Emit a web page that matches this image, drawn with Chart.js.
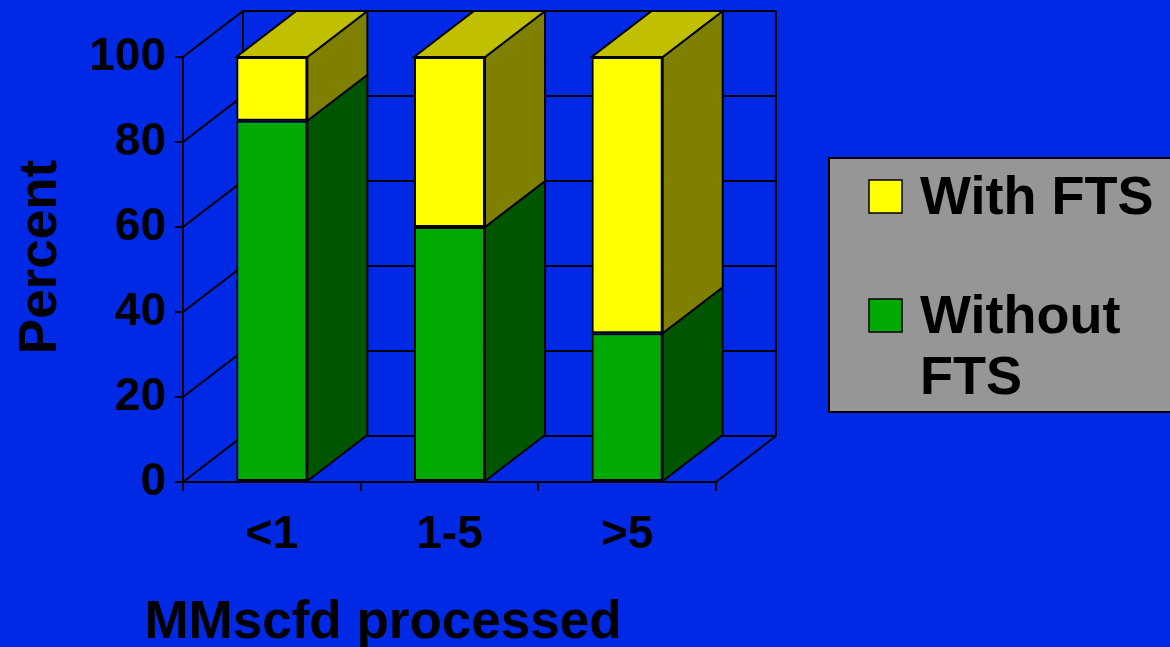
<!DOCTYPE html>
<html>
<head>
<meta charset="utf-8">
<title>FTS use by plant size</title>
<style>
  html, body { margin: 0; padding: 0; background: #0029E5; overflow: hidden; }
  #wrap { width: 1170px; height: 647px; }
</style>
<script src="https://cdn.jsdelivr.net/npm/chart.js@4.4.1/dist/chart.umd.min.js"></script>
</head>
<body>
<div id="wrap"><canvas id="chart" width="1170" height="647"></canvas></div>
<script>
// Share of plants with / without FTS by gas throughput (MMscfd)
const categories = ['<1', '1-5', '>5'];
const withoutFTS = [85, 60, 35];
const withFTS = [15, 40, 65];
const yTickValues = [0, 20, 40, 60, 80, 100];
const seriesLabels = ['Without FTS', 'With FTS'];
const xAxisTitle = 'MMscfd processed';
const yAxisTitle = 'Percent';

const FONT = '"Liberation Sans", Arial, Helvetica, sans-serif';
const BG = '#0029E5';
const DX = 60, DY = -46;   // depth offset of the 3-D box

// front / side / top shades for each series
const shades = [
  { front: '#00AA00', side: '#005500', top: '#008000' },
  { front: '#FFFF00', side: '#808000', top: '#C0C000' }
];

const depthPlugin = {
  id: 'depth3d',
  beforeDraw(chart) {
    const ctx = chart.ctx;
    ctx.save();
    ctx.fillStyle = BG;
    ctx.fillRect(0, 0, chart.width, chart.height);
    ctx.restore();
  },
  beforeDatasetsDraw(chart) {
    // side wall, back wall and floor
    const { ctx, chartArea: { left, right, top, bottom }, scales: { y } } = chart;
    ctx.save();
    ctx.strokeStyle = '#000';
    ctx.lineWidth = 2;
    ctx.beginPath();
    yTickValues.forEach(v => {
      const py = y.getPixelForValue(v);
      ctx.moveTo(left, py);
      ctx.lineTo(left + DX, py + DY);
      ctx.lineTo(right + DX, py + DY);
    });
    ctx.moveTo(left + DX, top + DY);
    ctx.lineTo(left + DX, bottom + DY);
    ctx.moveTo(right + DX, top + DY);
    ctx.lineTo(right + DX, bottom + DY);
    ctx.moveTo(right, bottom);
    ctx.lineTo(right + DX, bottom + DY);
    ctx.stroke();
    ctx.restore();
  },
  afterDatasetsDraw(chart) {
    const ctx = chart.ctx;
    const n = chart.data.datasets.length;
    ctx.save();
    ctx.strokeStyle = '#000';
    ctx.lineWidth = 2;
    ctx.lineJoin = 'miter';
    for (let d = 0; d < n; d++) {
      const meta = chart.getDatasetMeta(d);
      meta.data.forEach(bar => {
        const p = bar.getProps(['x', 'y', 'base', 'width'], true);
        const l = p.x - p.width / 2, r = p.x + p.width / 2;
        const t = Math.min(p.y, p.base), b = Math.max(p.y, p.base);
        // right side face
        ctx.beginPath();
        ctx.moveTo(r, t);
        ctx.lineTo(r + DX, t + DY);
        ctx.lineTo(r + DX, b + DY);
        ctx.lineTo(r, b);
        ctx.closePath();
        ctx.fillStyle = shades[d].side;
        ctx.fill();
        ctx.stroke();
        // top face on the uppermost segment
        if (d === n - 1) {
          ctx.beginPath();
          ctx.moveTo(l, t);
          ctx.lineTo(l + DX, t + DY);
          ctx.lineTo(r + DX, t + DY);
          ctx.lineTo(r, t);
          ctx.closePath();
          ctx.fillStyle = shades[d].top;
          ctx.fill();
          ctx.stroke();
        }
      });
    }
    ctx.restore();
  },
  afterDraw(chart) {
    const ctx = chart.ctx;
    ctx.save();
    // axis titles
    ctx.fillStyle = '#000';
    ctx.font = 'bold 53px ' + FONT;
    ctx.textAlign = 'center';
    ctx.textBaseline = 'alphabetic';
    ctx.fillText(xAxisTitle, 383, 638);
    ctx.save();
    ctx.translate(56, 257);
    ctx.rotate(-Math.PI / 2);
    ctx.fillText(yAxisTitle, 0, 0);
    ctx.restore();

    // legend box
    const bx = 829, by = 158, bw = 360, bh = 254;
    ctx.fillStyle = '#969696';
    ctx.fillRect(bx, by, bw, bh);
    ctx.strokeStyle = '#000';
    ctx.lineWidth = 2;
    ctx.strokeRect(bx, by, bw, bh);

    ctx.font = 'bold 54px ' + FONT;
    ctx.textAlign = 'left';
    const tx = 920, maxW = 245, lineH = 61;
    const order = [1, 0];
    const rowBase = [214, 333];
    order.forEach((d, i) => {
      const ds = chart.data.datasets[d];
      // swatch
      ctx.fillStyle = shades[d].front;
      ctx.fillRect(869, rowBase[i] - 34, 33, 33);
      ctx.lineWidth = 1.5;
      ctx.strokeStyle = '#000';
      ctx.strokeRect(869, rowBase[i] - 34, 33, 33);
      // wrapped label
      const words = ds.label.split(' ');
      const lines = [];
      let cur = '';
      words.forEach(w => {
        const test = cur ? cur + ' ' + w : w;
        if (cur && ctx.measureText(test).width > maxW) { lines.push(cur); cur = w; }
        else cur = test;
      });
      if (cur) lines.push(cur);
      ctx.fillStyle = '#000';
      lines.forEach((ln, k) => ctx.fillText(ln, tx, rowBase[i] + k * lineH));
    });
    ctx.restore();
  }
};

const tickFont = { family: FONT, size: 46, weight: 'bold' };

new Chart(document.getElementById('chart'), {
  type: 'bar',
  data: {
    labels: categories,
    datasets: [
      {
        label: seriesLabels[0],
        data: withoutFTS,
        backgroundColor: shades[0].front,
        borderColor: '#000',
        borderWidth: 2,
        borderSkipped: false
      },
      {
        label: seriesLabels[1],
        data: withFTS,
        backgroundColor: shades[1].front,
        borderColor: '#000',
        borderWidth: 2,
        borderSkipped: false
      }
    ]
  },
  options: {
    responsive: false,
    animation: false,
    devicePixelRatio: 1,
    layout: { padding: { left: 0, top: 57, right: 454, bottom: 0 } },
    datasets: { bar: { categoryPercentage: 1.0, barPercentage: 0.4 } },
    plugins: {
      legend: { display: false },
      tooltip: { enabled: false }
    },
    scales: {
      x: {
        stacked: true,
        grid: { display: true, drawOnChartArea: false, color: '#000', lineWidth: 2, tickLength: 9, offset: true },
        border: { display: true, color: '#000', width: 2 },
        ticks: { font: tickFont, color: '#000', padding: 17, maxRotation: 0, autoSkip: false },
        afterFit(scale) { scale.height = 165; }
      },
      y: {
        stacked: true,
        min: 0,
        max: 100,
        grid: { display: true, drawOnChartArea: false, color: '#000', lineWidth: 2, tickLength: 8 },
        border: { display: true, color: '#000', width: 2 },
        ticks: { font: tickFont, color: '#000', padding: 9, stepSize: 20 },
        afterBuildTicks(scale) { scale.ticks = yTickValues.map(v => ({ value: v })); },
        afterFit(scale) { scale.width = 183; }
      }
    }
  },
  plugins: [depthPlugin]
});
</script>
</body>
</html>
